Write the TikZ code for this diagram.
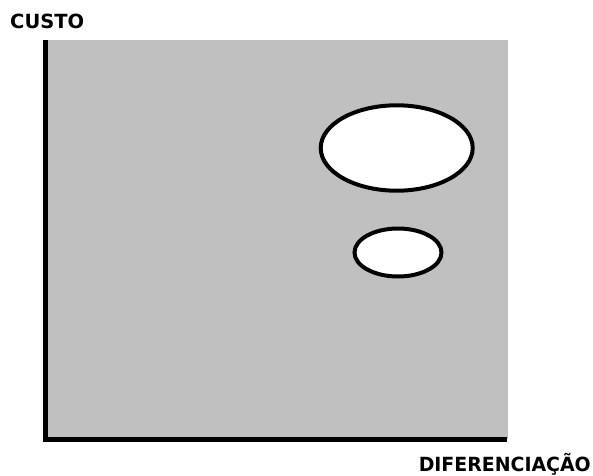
\documentclass[tikz,border=0pt]{standalone}
\usepackage{fontspec}
\setmainfont{DejaVu Sans}
\usetikzlibrary{shapes.geometric}
\begin{document}
\begin{tikzpicture}[x=1pt,y=1pt,
  lbl/.style={font=\fontsize{19.5}{22}\selectfont\bfseries, inner sep=0pt},
  blob/.style={ellipse, draw=black, fill=white, line width=4pt, inner sep=0pt},
  axis/.style={line width=5pt, line join=miter, line cap=butt}]
\useasboundingbox (0,0) rectangle (593,475);
\fill[white] (0,0) rectangle (593,475);
\fill[fill={rgb,255:red,192;green,192;blue,192}] (46,36) rectangle (508,435);
\coordinate (top) at (45.8,435);
\coordinate (origin) at (45.8,35.8);
\coordinate (right) at (507,35.8);
\draw[axis] (top) -- (origin) -- (right);
\node[blob, minimum width=152pt, minimum height=85.4pt] (big) at (396.7,327) {};
\node[blob, minimum width=87pt, minimum height=48pt] (small) at (398,222.5) {};
\node[lbl, anchor=base west] (custo) at (10,446) {CUSTO};
\node[lbl, anchor=base east, xscale=0.97] (dif) at (591,4) {DIFERENCIAÇÃO};
\end{tikzpicture}
\end{document}
